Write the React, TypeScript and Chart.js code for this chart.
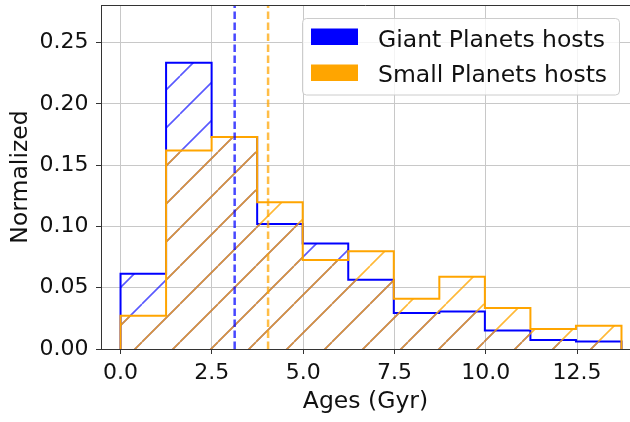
import React, { useEffect, useRef } from 'react';
import { Chart, registerables } from 'chart.js';

Chart.register(...registerables);

// ---- data ----
const binEdges = [0, 1.247, 2.494, 3.741, 4.988, 6.235, 7.482, 8.729, 9.976, 11.223, 12.47, 13.717];
const giantValues = [0.0615, 0.2337, 0.173, 0.102, 0.0862, 0.0566, 0.0294, 0.0307, 0.0152, 0.0073, 0.0062];
const smallValues = [0.0272, 0.1621, 0.173, 0.1197, 0.0726, 0.0797, 0.0411, 0.059, 0.0335, 0.0163, 0.019];
const giantMedian = 3.125;
const smallMedian = 4.04;
const xTicks = [0, 2.5, 5, 7.5, 10, 12.5];
const yTicks = [0, 0.05, 0.1, 0.15, 0.2, 0.25];
const seriesLabels = ['Giant Planets hosts', 'Small Planets hosts'];

const X_MIN = -0.535;
const X_MAX = 13.95;
const Y_MIN = 0;
const Y_MAX = 0.2808;

const FONT = 'DejaVu Sans';
const BLUE = '#0000ff';
const ORANGE = '#ffa500';

function stepPoints(edges: number[], values: number[]) {
  const pts: { x: number; y: number }[] = [{ x: edges[0], y: 0 }];
  values.forEach((v, i) => {
    pts.push({ x: edges[i], y: v });
    pts.push({ x: edges[i + 1], y: v });
  });
  pts.push({ x: edges[edges.length - 1], y: 0 });
  return pts;
}

function makeHatch(ctx: CanvasRenderingContext2D, color: string) {
  const T = 38;
  const c = document.createElement('canvas');
  c.width = T;
  c.height = T;
  const g = c.getContext('2d')!;
  g.strokeStyle = color;
  g.lineWidth = 1.6;
  g.beginPath();
  for (let m = 0; m <= 2; m++) {
    const c0 = m * T;
    g.moveTo(c0 - T, T);
    g.lineTo(c0, 0);
  }
  g.stroke();
  const p = ctx.createPattern(c, 'repeat')!;
  if ((p as any).setTransform) p.setTransform(new DOMMatrix([1, 0, 0, 1, 28, 0]));
  return p;
}

const overlayPlugin = {
  id: 'overlay',
  afterDraw(chart: any) {
    const { ctx, chartArea } = chart;
    ctx.save();
    // top spine
    ctx.strokeStyle = '#333';
    ctx.lineWidth = 1;
    ctx.beginPath();
    ctx.moveTo(chartArea.left, chartArea.top + 0.5);
    ctx.lineTo(chartArea.right, chartArea.top + 0.5);
    ctx.stroke();
    // legend
    const bx = 302.5, by = 18.5, bw = 317, bh = 76.5, r = 4;
    ctx.beginPath();
    ctx.moveTo(bx + r, by);
    ctx.lineTo(bx + bw - r, by);
    ctx.arcTo(bx + bw, by, bx + bw, by + r, r);
    ctx.lineTo(bx + bw, by + bh - r);
    ctx.arcTo(bx + bw, by + bh, bx + bw - r, by + bh, r);
    ctx.lineTo(bx + r, by + bh);
    ctx.arcTo(bx, by + bh, bx, by + bh - r, r);
    ctx.lineTo(bx, by + r);
    ctx.arcTo(bx, by, bx + r, by, r);
    ctx.closePath();
    ctx.fillStyle = 'rgba(255,255,255,0.8)';
    ctx.fill();
    ctx.strokeStyle = '#cccccc';
    ctx.stroke();
    const colors = [BLUE, ORANGE];
    const patchY = [28.5, 64.5];
    const baseY = [46.5, 82];
    ctx.font = `23.5px "${FONT}"`;
    ctx.textBaseline = 'alphabetic';
    ctx.textAlign = 'left';
    seriesLabels.forEach((lab, i) => {
      ctx.fillStyle = colors[i];
      ctx.fillRect(311, patchY[i], 47, 16.5);
      ctx.fillStyle = '#111';
      ctx.fillText(lab, 378, baseY[i]);
    });
    ctx.restore();
  },
};

export default function App() {
  const ref = useRef<HTMLCanvasElement>(null);
  useEffect(() => {
    const canvas = ref.current!;
    const ctx = canvas.getContext('2d')!;
    const giantHatch = makeHatch(ctx, 'rgba(0,0,255,0.65)');
    const smallHatch = makeHatch(ctx, 'rgba(255,165,0,0.78)');
    const chart = new Chart(canvas, {
      type: 'line',
      data: {
        datasets: [
          {
            label: seriesLabels[0],
            data: stepPoints(binEdges, giantValues),
            borderColor: BLUE,
            borderWidth: 2,
            backgroundColor: giantHatch as any,
            fill: 'origin',
            order: 4,
          },
          {
            label: seriesLabels[1],
            data: stepPoints(binEdges, smallValues),
            borderColor: ORANGE,
            borderWidth: 2,
            backgroundColor: smallHatch as any,
            fill: 'origin',
            order: 3,
          },
          {
            label: 'giant median',
            data: [
              { x: giantMedian, y: Y_MIN },
              { x: giantMedian, y: Y_MAX },
            ],
            borderColor: 'rgba(0,0,255,0.72)',
            borderWidth: 2.5,
            borderDash: [7.5, 3.5],
            fill: false,
            order: 2,
          },
          {
            label: 'small median',
            data: [
              { x: smallMedian, y: Y_MIN },
              { x: smallMedian, y: Y_MAX },
            ],
            borderColor: 'rgba(255,165,0,0.72)',
            borderWidth: 2.5,
            borderDash: [7.5, 3.5],
            fill: false,
            order: 1,
          },
        ],
      },
      options: {
        animation: false,
        responsive: false,
        devicePixelRatio: 1,
        layout: { padding: { top: 5, left: 0, right: 0, bottom: 0 } },
        elements: { point: { radius: 0 }, line: { tension: 0 } },
        plugins: { legend: { display: false }, tooltip: { enabled: false } },
        scales: {
          x: {
            type: 'linear',
            min: X_MIN,
            max: X_MAX,
            afterFit: (s: any) => {
              s.height = 73;
              s.paddingLeft = 0;
              s.paddingRight = 0;
            },
            afterBuildTicks: (s: any) => {
              s.ticks = xTicks.map((v) => ({ value: v }));
            },
            ticks: {
              font: { family: FONT, size: 22 },
              color: '#111',
              padding: 6,
              maxRotation: 0,
              autoSkip: false,
              callback: (v: any) => Number(v).toFixed(1),
            },
            grid: { color: '#c8c8c8', lineWidth: 1, tickColor: '#333', tickLength: 5, tickWidth: 1 },
            border: { color: '#333', width: 1 },
            title: {
              display: true,
              text: 'Ages (Gyr)',
              font: { family: FONT, size: 23.5 },
              color: '#111',
              padding: { top: 0, bottom: 5.9 },
            },
          },
          y: {
            type: 'linear',
            min: Y_MIN,
            max: Y_MAX,
            afterFit: (s: any) => {
              s.width = 101;
              s.paddingTop = 0;
              s.paddingBottom = 0;
            },
            afterBuildTicks: (s: any) => {
              s.ticks = yTicks.map((v) => ({ value: v }));
            },
            ticks: {
              font: { family: FONT, size: 22 },
              color: '#111',
              padding: 7.5,
              autoSkip: false,
              callback: (v: any) => Number(v).toFixed(2),
            },
            grid: { color: '#c8c8c8', lineWidth: 1, tickColor: '#333', tickLength: 5, tickWidth: 1 },
            border: { color: '#333', width: 1 },
            title: {
              display: true,
              text: 'Normalized',
              font: { family: FONT, size: 23.5 },
              color: '#111',
              padding: { top: 6.4, bottom: 0 },
            },
          },
        },
      },
      plugins: [overlayPlugin],
    } as any);
    return () => chart.destroy();
  }, []);
  return (
    <div style={{ position: 'fixed', left: 0, top: 0, width: 630, height: 422, background: '#fff' }}>
      <canvas ref={ref} width={630} height={422} style={{ width: 630, height: 422, display: 'block' }} />
    </div>
  );
}
